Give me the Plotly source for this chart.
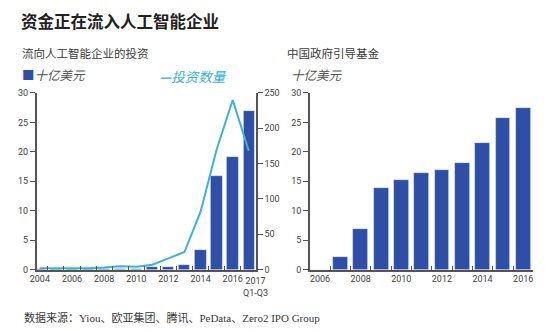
import plotly.graph_objects as go

# 流向人工智能企业的投资
invest_years = list(range(2004, 2018))
invest_bn = [0.05, 0.05, 0.05, 0.05, 0.1, 0.15, 0.2, 0.45, 0.45, 0.75, 3.4, 15.9, 19.1, 27.0]
deal_count = [2, 2, 1, 2, 3, 5, 4, 7, 16, 25, 82, 170, 240, 168]

# 中国政府引导基金
fund_years = list(range(2006, 2017))
fund_bn = [0, 2.2, 7.0, 13.9, 15.3, 16.4, 16.9, 18.1, 21.6, 25.7, 27.5]

left_ticks = [2004, 2006, 2008, 2010, 2012, 2014, 2016]
right_ticks = [2006, 2008, 2010, 2012, 2014, 2016]

BAR = "#2f4fa6"
LINE = "#3ab4d0"
AXIS = "#555555"
TXT = "#3a3a3a"
TICKFONT = dict(family="Roboto, Arial, sans-serif", size=9, color="#444444")
CJK = "Noto Sans CJK SC, sans-serif"

fig = go.Figure()

fig.add_trace(go.Bar(x=invest_years, y=invest_bn, width=0.7, marker_color=BAR,
                     xaxis="x", yaxis="y", showlegend=False))
fig.add_trace(go.Scatter(x=invest_years, y=deal_count, mode="lines",
                         line=dict(color=LINE, width=2), xaxis="x", yaxis="y2",
                         showlegend=False))
fig.add_trace(go.Bar(x=fund_years, y=fund_bn, width=0.73, marker_color=BAR,
                     xaxis="x2", yaxis="y3", showlegend=False))

ydom = [0.178, 0.727]

def xaxis(dom, rng, labels, yr0, yr1, anchor):
    return dict(domain=dom, range=rng, anchor=anchor,
                tickvals=labels, ticktext=[str(v) for v in labels],
                ticks="", tickfont=TICKFONT, showgrid=False, zeroline=False,
                showline=True, linecolor=AXIS, linewidth=1.5,
                minor=dict(tickvals=[y + 0.5 for y in range(yr0, yr1)],
                           ticks="inside", ticklen=4, tickcolor=AXIS, tickwidth=1,
                           showgrid=False))

fig.update_layout(
    width=560, height=332,
    margin=dict(l=0, r=0, t=0, b=0),
    paper_bgcolor="white", plot_bgcolor="white",
    bargap=0,
    xaxis=xaxis([30 / 560, 252 / 560], [2003.8, 2017.44], left_ticks, 2004, 2017, "y"),
    yaxis=dict(domain=ydom, range=[0, 30], tickvals=list(range(0, 31, 5)),
               ticks="outside", ticklen=5, tickcolor=AXIS, tickwidth=1,
               tickfont=TICKFONT, showgrid=False, zeroline=False,
               showline=True, linecolor=AXIS, linewidth=1.5, anchor="x"),
    yaxis2=dict(domain=ydom, range=[0, 250], tickvals=list(range(0, 251, 50)),
                overlaying="y", side="right", anchor="x",
                ticks="outside", ticklen=5, tickcolor=AXIS, tickwidth=1,
                tickfont=TICKFONT, showgrid=False, zeroline=False,
                showline=True, linecolor=AXIS, linewidth=1.5),
    xaxis2=xaxis([306.7 / 560, 533 / 560], [2005.5, 2016.5], right_ticks, 2006, 2016, "y3"),
    yaxis3=dict(domain=ydom, range=[0, 30], tickvals=list(range(0, 31, 5)),
                anchor="x2", ticks="outside", ticklen=5, tickcolor=AXIS, tickwidth=1,
                tickfont=TICKFONT, showgrid=False, zeroline=False,
                showline=True, linecolor=AXIS, linewidth=1.5),
)

def px_x(v):
    return v / 560

def px_y(v):
    return 1 - v / 332

annotations = [
    dict(text="<b>资金正在流入人工智能企业</b>", x=px_x(12), y=px_y(17),
         font=dict(family=CJK, size=16.5, color="#222222")),
    dict(text="流向人工智能企业的投资", x=px_x(13), y=px_y(49),
         font=dict(family=CJK, size=11.5, color=TXT)),
    dict(text=f"<span style='color:{BAR}'>■</span><i>十亿美元</i>", x=px_x(13), y=px_y(72),
         font=dict(family=CJK, size=12.5, color="#555555")),
    dict(text="<i><b>—</b>投资数量</i>", x=px_x(152), y=px_y(73),
         font=dict(family=CJK, size=13.5, color=LINE)),
    dict(text="中国政府引导基金", x=px_x(282), y=px_y(49),
         font=dict(family=CJK, size=11.5, color=TXT)),
    dict(text="<i>十亿美元</i>", x=px_x(286), y=px_y(72),
         font=dict(family=CJK, size=12.5, color="#555555")),
    dict(text="数据来源：Yiou、欧亚集团、腾讯、PeData、Zero2 IPO Group", x=px_x(15), y=px_y(322),
         font=dict(family="Liberation Serif, Noto Sans CJK SC, serif", size=11, color=TXT)),
]
for a in annotations:
    a.update(xref="paper", yref="paper", xanchor="left", yanchor="middle", showarrow=False)

# label for the partial year at the end of the investment axis
annotations.append(dict(text="2017<br>Q1-Q3", xref="x", yref="paper", x=2017.4,
                        y=px_y(277), xanchor="center", yanchor="top", showarrow=False,
                        font=TICKFONT))

fig.update_layout(annotations=annotations)
fig.write_html("out.html")
